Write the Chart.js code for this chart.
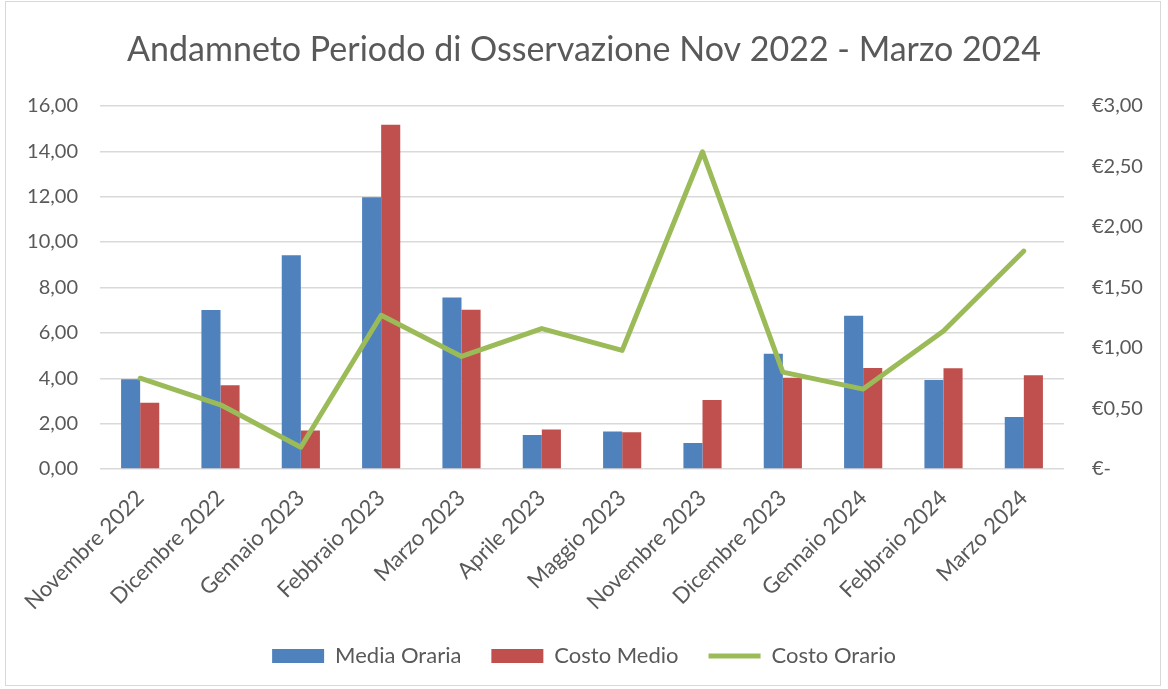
<!DOCTYPE html>
<html>
<head>
<meta charset="utf-8">
<script src="https://cdn.jsdelivr.net/npm/chart.js@4.4.1/dist/chart.umd.min.js"></script>
<style>
  html, body { margin: 0; padding: 0; background: #ffffff; }
  #wrap { position: relative; width: 1168px; height: 689px; }
  #frame { position: absolute; left: 5px; top: 1px; width: 1156px; height: 685px; border: 1px solid #D9D9D9; box-sizing: border-box; pointer-events: none; }
  canvas { position: absolute; left: 0; top: 0; }
</style>
</head>
<body>
<div id="wrap">
  <canvas id="c" width="1168" height="689"></canvas>
  <div id="frame"></div>
</div>
<script>
const titleText = 'Andamneto Periodo di Osservazione Nov 2022 - Marzo 2024';
const categories = ['Novembre 2022', 'Dicembre 2022', 'Gennaio 2023', 'Febbraio 2023', 'Marzo 2023', 'Aprile 2023', 'Maggio 2023', 'Novembre 2023', 'Dicembre 2023', 'Gennaio 2024', 'Febbraio 2024', 'Marzo 2024'];
const mediaOraria = [3.95, 7.00, 9.42, 11.97, 7.56, 1.50, 1.65, 1.15, 5.08, 6.75, 3.92, 2.29];
const costoMedio = [2.92, 3.69, 1.70, 15.16, 7.02, 1.74, 1.62, 3.04, 4.02, 4.45, 4.44, 4.13];
const costoOrario = [0.75, 0.53, 0.18, 1.27, 0.93, 1.16, 0.98, 2.62, 0.80, 0.66, 1.14, 1.80];
const leftTicks = [0, 2, 4, 6, 8, 10, 12, 14, 16];
const rightTicks = [0, 0.5, 1, 1.5, 2, 2.5, 3];

const textColor = '#595959';
const gridColor = '#D9D9D9';
const fontFamily = 'Lato, "Open Sans", sans-serif';

new Chart(document.getElementById('c'), {
  type: 'bar',
  data: {
    labels: categories,
    datasets: [
      { label: 'Media Oraria', data: mediaOraria, backgroundColor: '#4F81BD', borderWidth: 0, yAxisID: 'y', order: 1, pointStyle: 'rect', categoryPercentage: 0.475, barPercentage: 1.0 },
      { label: 'Costo Medio', data: costoMedio, backgroundColor: '#C0504D', borderWidth: 0, yAxisID: 'y', order: 1, pointStyle: 'rect', categoryPercentage: 0.475, barPercentage: 1.0 },
      { label: 'Costo Orario', type: 'line', data: costoOrario, borderColor: '#9BBB59', backgroundColor: '#9BBB59', borderWidth: 5, pointRadius: 0, pointStyle: 'line', tension: 0, yAxisID: 'y1', order: 0, borderCapStyle: 'round', borderJoinStyle: 'round' }
    ]
  },
  options: {
    responsive: false,
    animation: false,
    layout: { padding: { left: 0, right: 0, top: 0, bottom: 12 } },
    plugins: {
      tooltip: { enabled: false },
      title: {
        display: true,
        text: titleText,
        color: textColor,
        font: { family: fontFamily, size: 34, weight: 'normal' },
        padding: { top: 30, bottom: 35 }
      },
      legend: {
        position: 'bottom',
        labels: {
          usePointStyle: true,
          pointStyleWidth: 52,
          boxHeight: 14,
          color: textColor,
          font: { family: fontFamily, size: 22 },
          padding: 30,
          sort: (a, b) => a.datasetIndex - b.datasetIndex
        }
      }
    },
    scales: {
      x: {
        grid: { display: false },
        border: { display: false },
        ticks: {
          color: textColor,
          font: { family: fontFamily, size: 22 },
          minRotation: 45,
          maxRotation: 45,
          autoSkip: false,
          padding: 8
        },
        afterFit: (s) => { s.height = 146; }
      },
      y: {
        position: 'left',
        min: 0,
        max: 16,
        afterBuildTicks: (s) => { s.ticks = leftTicks.map(v => ({ value: v })); },
        grid: { color: gridColor, lineWidth: 1.4, drawTicks: false },
        border: { display: false },
        ticks: {
          color: textColor,
          font: { family: fontFamily, size: 20 },
          padding: 22,
          callback: (v) => Number(v).toFixed(2).replace('.', ',')
        },
        afterFit: (s) => { s.width = 100; }
      },
      y1: {
        position: 'right',
        min: 0,
        max: 3,
        afterBuildTicks: (s) => { s.ticks = rightTicks.map(v => ({ value: v })); },
        grid: { display: false, drawTicks: false },
        border: { display: false },
        ticks: {
          color: textColor,
          font: { family: fontFamily, size: 20 },
          padding: 28,
          callback: (v) => v === 0 ? '€-' : '€' + Number(v).toFixed(2).replace('.', ',')
        },
        afterFit: (s) => { s.width = 104; }
      }
    }
  }
});
</script>
</body>
</html>
